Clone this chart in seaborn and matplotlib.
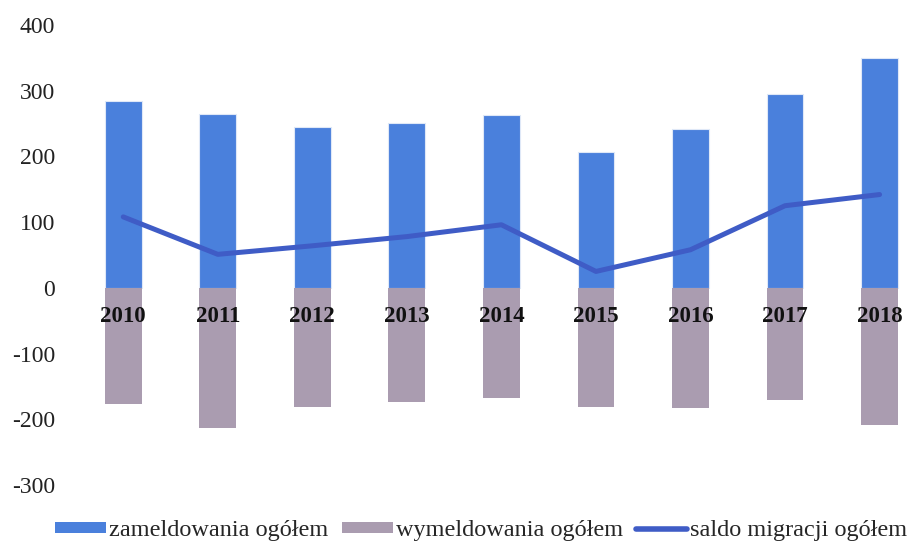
import matplotlib
matplotlib.use('Agg')
import matplotlib.pyplot as plt
import seaborn as sns
import pandas as pd
from matplotlib.patches import Patch
from matplotlib.lines import Line2D

years = ['2010', '2011', '2012', '2013', '2014', '2015', '2016', '2017', '2018']
zameldowania = [285, 265, 245, 251, 263, 207, 241, 295, 350]
wymeldowania = [-177, -214, -181, -173, -167, -182, -183, -170, -208]
saldo = [108, 51, 64, 78, 96, 25, 58, 125, 142]

label_zam = 'zameldowania ogółem'
label_wym = 'wymeldowania ogółem'
label_sal = 'saldo migracji ogółem'

c_zam = '#4a80dc'
c_wym = '#aa9cb0'
c_sal = '#3f5cc6'

sns.set_theme(style='white')
plt.rcParams['font.family'] = ['Liberation Serif', 'DejaVu Serif']
plt.rcParams['axes.unicode_minus'] = False

df = pd.DataFrame({'rok': years, 'zam': zameldowania, 'wym': wymeldowania, 'saldo': saldo})
df['pos'] = range(len(years))

fig = plt.figure(figsize=(9.07, 5.46), dpi=100)
ax = fig.add_axes([76 / 907, 1 - 485 / 546, 1 - 76 / 907, (485 - 25) / 546])

sns.barplot(data=df, x='rok', y='zam', color=c_zam, width=0.39, saturation=1,
            edgecolor='#dfe8f7', linewidth=0.8, ax=ax)
sns.barplot(data=df, x='rok', y='wym', color=c_wym, width=0.39, saturation=1,
            edgecolor='none', ax=ax)
sns.lineplot(data=df, x='pos', y='saldo', color=c_sal, lw=3.6, ax=ax, zorder=3)

ax.set_xlim(-0.5, 8.29)
ax.set_ylim(-300, 400)
ax.set_yticks(range(-300, 401, 100))
ax.set_xlabel('')
ax.set_ylabel('')
for s in ax.spines.values():
    s.set_visible(False)
ax.tick_params(axis='y', length=0, pad=15, labelsize=17, labelcolor='#222222')
ax.set_xticks([])

# year labels sit just under the zero line, on top of the bars
for p, y in zip(df['pos'], df['rok']):
    ax.text(p, -43, y, ha='center', va='center', fontsize=16.5, fontweight='bold',
            color='#111111', zorder=5)

handles = [
    Patch(facecolor=c_zam, edgecolor='none', label=label_zam),
    Patch(facecolor=c_wym, edgecolor='none', label=label_wym),
    Line2D([0], [0], color=c_sal, lw=4, label=label_sal),
]
fig.legend(handles=handles, loc='center left', bbox_to_anchor=(55 / 907, 0.028), ncol=3,
           frameon=False, fontsize=17.5, handlelength=2.1, handleheight=0.35,
           handletextpad=0.12, columnspacing=0.55, borderpad=0, borderaxespad=0)

fig.savefig('out.png', dpi=100)
